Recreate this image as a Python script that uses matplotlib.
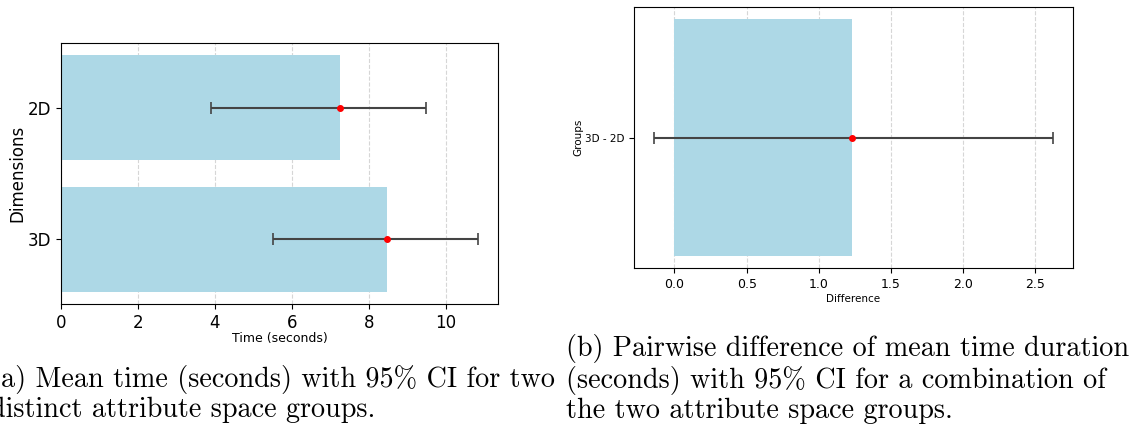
import numpy as np
from matplotlib import pyplot as plt

# panel (a): mean time per dimension group
groups = ['2D', '3D']
mean_time = [7.25, 8.48]
ci_low = [3.91, 5.52]
ci_high = [9.49, 10.83]

# panel (b): pairwise difference
pair_labels = ['3D - 2D']
mean_diff = [1.23]
diff_low = [-0.14]
diff_high = [2.62]

caption_a = "(a) Mean time (seconds) with 95% CI for two\ndistinct attribute space groups."
caption_b = ("(b) Pairwise difference of mean time duration\n"
             "(seconds) with 95% CI for a combination of\n"
             "the two attribute space groups.")

fig = plt.figure(figsize=(11.42, 4.25), dpi=100)
W, H = 1142, 425

def px_axes(x0, y0, x1, y1):
    return fig.add_axes([x0 / W, 1 - y1 / H, (x1 - x0) / W, (y1 - y0) / H])

bar_color = '#ADD8E6'

# left chart
ax1 = px_axes(61, 43, 498, 304)
ypos = np.arange(len(groups))
ax1.barh(ypos, mean_time, color=bar_color, height=0.8)
xerr = [np.array(mean_time) - np.array(ci_low), np.array(ci_high) - np.array(mean_time)]
ax1.errorbar(mean_time, ypos, xerr=xerr, fmt='o', color='red', markersize=4,
             ecolor='#444444', elinewidth=1.5, capsize=4, capthick=1.2)
ax1.set_yticks(ypos)
ax1.set_yticklabels(groups, fontsize=12)
ax1.invert_yaxis()
ax1.set_xlim(0, 11.36)
ax1.set_xticks([0, 2, 4, 6, 8, 10])
ax1.tick_params(axis='x', labelsize=12)
ax1.set_xlabel('Time (seconds)', fontsize=9, labelpad=0)
ax1.set_ylabel('Dimensions', fontsize=12, labelpad=1)
ax1.grid(axis='x', linestyle='--', color='#cccccc', alpha=0.8)
ax1.set_axisbelow(True)

# right chart
ax2 = px_axes(634, 7, 1073, 268)
ypos2 = np.arange(len(pair_labels))
ax2.barh(ypos2, mean_diff, color=bar_color, height=0.8)
xerr2 = [np.array(mean_diff) - np.array(diff_low), np.array(diff_high) - np.array(mean_diff)]
ax2.errorbar(mean_diff, ypos2, xerr=xerr2, fmt='o', color='red', markersize=4,
             ecolor='#444444', elinewidth=1.5, capsize=4, capthick=1.2)
ax2.set_yticks(ypos2)
ax2.set_yticklabels(pair_labels, fontsize=7.5)
ax2.set_xlim(-0.28, 2.76)
ax2.set_xticks([0.0, 0.5, 1.0, 1.5, 2.0, 2.5])
ax2.tick_params(axis='x', labelsize=9)
ax2.set_xlabel('Difference', fontsize=7.5, labelpad=2)
ax2.set_ylabel('Groups', fontsize=7.5, labelpad=1)
ax2.grid(axis='x', linestyle='--', color='#cccccc', alpha=0.8)
ax2.set_axisbelow(True)

# captions (latex style)
cap_font = dict(family='cmr10', fontsize=20.3, va='top', ha='left', linespacing=1.13)
fig.text(-10 / W, 1 - 365 / H, caption_a, **cap_font)
fig.text(566 / W, 1 - 334 / H, caption_b, **cap_font)

fig.savefig('out.png', dpi=100)
